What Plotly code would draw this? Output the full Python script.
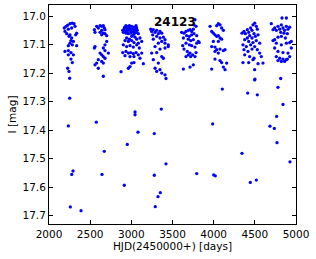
import plotly.graph_objects as go

# Epoch (HJD-2450000) and I magnitude
hjd = [
    # season 1
    2186, 2207, 2227, 2255, 2283, 2304, 2194, 2235, 2275, 2316, 2336, 2324, 2215, 2255, 2243, 2275,
    2267, 2296, 2255, 2283, 2336, 2235, 2194, 2235, 2267, 2296, 2235, 2267, 2283, 2227, 2243,
    # season 2
    2579, 2599, 2620, 2640, 2660, 2672, 2680, 2640, 2620, 2660, 2559, 2551, 2680, 2701, 2640, 2701,
    2680, 2559, 2551, 2660, 2680, 2721, 2620, 2640, 2660, 2680, 2599, 2640, 2579, 2559, 2660, 2599,
    # season 3
    2895, 2911, 2923, 2943, 2951, 2964, 2976, 2984, 2992, 3004, 3016, 3024, 3032, 3045, 3057, 3065,
    3073, 2935, 2964, 2992, 3024, 2903, 3085, 3004, 3045, 2943, 2976, 3065, 3105, 2923, 2964, 3004,
    3032, 3085, 3126, 2903, 2943, 2984, 3024, 3065, 3097, 2895, 2935, 2964, 2992, 3024, 3057, 3085,
    2923, 2984, 3032, 3126, 3004, 3032, 3146, 2984, 2964, 3105, 2919, 2951, 2984, 3008, 3041, 2976,
    3057, 2935,
    # season 4
    3235, 3247, 3267, 3288, 3308, 3328, 3348, 3369, 3259, 3308, 3348, 3389, 3409, 3267, 3369, 3409,
    3449, 3328, 3288, 3247, 3348, 3308, 3409, 3449, 3369, 3389, 3267, 3328, 3288, 3348, 3409, 3308,
    3369,
    # season 5
    3611, 3640, 3664, 3692, 3713, 3733, 3753, 3773, 3761, 3786, 3672, 3705, 3733, 3761, 3794, 3632,
    3692, 3721, 3753, 3814, 3624, 3664, 3705, 3733, 3773, 3794, 3826, 3640, 3680, 3713, 3745, 3786,
    3692, 3664, 3721, 3773, 3753, 3713, 3632,
    # season 6
    3956, 3976, 3996, 4037, 4057, 4077, 4097, 4118, 4016, 4037, 4057, 4077, 4097, 3996, 4057, 3976,
    4016, 4037, 4077, 4118, 4138, 4016, 4057, 4016, 4077, 4097, 4158, 4118, 4138, 3976,
    # season 7
    4344, 4368, 4385, 4409, 4425, 4449, 4466, 4478, 4498, 4518, 4530, 4490, 4437, 4409, 4466, 4506,
    4539, 4377, 4425, 4478, 4518, 4559, 4356, 4397, 4449, 4498, 4368, 4417, 4466, 4530, 4559, 4377,
    4437, 4490, 4579, 4356, 4425, 4478, 4539, 4599, 4498,
    # season 8
    4700, 4721, 4741, 4761, 4781, 4802, 4822, 4830, 4883, 4842, 4862, 4883, 4903, 4923, 4814, 4854,
    4895, 4741, 4721, 4781, 4822, 4871, 4923, 4943, 4761, 4822, 4883, 4741, 4781, 4842, 4903, 4943,
    4761, 4802, 4842, 4883, 4923, 4781, 4822, 4862, 4895,
    # faint outliers
    2251, 2235, 2575, 3045, 3045, 3364, 3081, 3279, 2951, 2672, 2292, 2276, 2644, 3421, 3279, 2915,
    3352, 3324, 2259, 2389, 3291, 4105, 4498, 4781, 4413, 4530, 4842, 4765, 3988, 4684, 4737, 4769,
    4344, 4927, 3794, 4000, 4020, 4445, 4518, 4814, 3421, 4502, 2875, 2660, 2251,
]

imag = [
    # season 1
    17.042, 17.036, 17.032, 17.027, 17.025, 17.027, 17.054, 17.046, 17.042, 17.036, 17.060, 17.066,
    17.062, 17.066, 17.071, 17.077, 17.086, 17.089, 17.095, 17.101, 17.104, 17.104, 17.124, 17.121,
    17.128, 17.136, 17.136, 17.151, 17.163, 17.183, 17.194,
    # season 2
    17.036, 17.042, 17.034, 17.036, 17.034, 17.042, 17.048, 17.050, 17.057, 17.060, 17.057, 17.048,
    17.062, 17.069, 17.066, 17.089, 17.101, 17.107, 17.112, 17.112, 17.121, 17.130, 17.130, 17.136,
    17.142, 17.148, 17.153, 17.159, 17.165, 17.171, 17.165, 17.183,
    # season 3
    17.050, 17.046, 17.054, 17.042, 17.048, 17.036, 17.034, 17.042, 17.050, 17.036, 17.046, 17.054,
    17.039, 17.048, 17.057, 17.042, 17.050, 17.060, 17.062, 17.060, 17.066, 17.057, 17.062, 17.071,
    17.074, 17.077, 17.081, 17.081, 17.077, 17.086, 17.089, 17.086, 17.093, 17.095, 17.089, 17.101,
    17.107, 17.104, 17.109, 17.101, 17.112, 17.128, 17.124, 17.130, 17.128, 17.132, 17.128, 17.136,
    17.139, 17.142, 17.142, 17.130, 17.165, 17.163, 17.167, 17.177, 17.183, 17.148, 17.039, 17.055,
    17.050, 17.055, 17.060, 17.046, 17.034, 17.034,
    # season 4
    17.046, 17.054, 17.048, 17.057, 17.050, 17.062, 17.054, 17.060, 17.066, 17.071, 17.077, 17.074,
    17.083, 17.081, 17.089, 17.095, 17.101, 17.095, 17.107, 17.130, 17.116, 17.128, 17.112, 17.107,
    17.142, 17.148, 17.153, 17.165, 17.183, 17.188, 17.206, 17.194, 17.200,
    # season 5
    17.057, 17.060, 17.054, 17.050, 17.048, 17.054, 17.046, 17.013, 17.031, 17.036, 17.069, 17.071,
    17.066, 17.062, 17.069, 17.077, 17.081, 17.086, 17.083, 17.089, 17.104, 17.095, 17.101, 17.104,
    17.109, 17.095, 17.093, 17.116, 17.124, 17.130, 17.136, 17.128, 17.136, 17.142, 17.142, 17.142,
    17.171, 17.179, 17.186,
    # season 6
    17.036, 17.054, 17.060, 17.034, 17.027, 17.031, 17.042, 17.050, 17.066, 17.071, 17.069, 17.077,
    17.081, 17.089, 17.089, 17.107, 17.109, 17.118, 17.116, 17.121, 17.118, 17.124, 17.130, 17.151,
    17.156, 17.163, 17.165, 17.179, 17.188, 17.186,
    # season 7
    17.060, 17.054, 17.062, 17.048, 17.057, 17.042, 17.050, 17.031, 17.025, 17.036, 17.046, 17.062,
    17.069, 17.077, 17.077, 17.071, 17.066, 17.083, 17.089, 17.093, 17.086, 17.095, 17.101, 17.107,
    17.101, 17.107, 17.118, 17.124, 17.116, 17.118, 17.130, 17.136, 17.142, 17.148, 17.142, 17.163,
    17.163, 17.153, 17.167, 17.165, 17.188,
    # season 8
    17.027, 17.048, 17.042, 17.050, 17.036, 17.046, 17.031, 17.007, 17.007, 17.042, 17.050, 17.036,
    17.046, 17.039, 17.057, 17.060, 17.062, 17.083, 17.086, 17.074, 17.071, 17.077, 17.093, 17.089,
    17.095, 17.101, 17.095, 17.112, 17.124, 17.128, 17.130, 17.112, 17.142, 17.148, 17.151, 17.153,
    17.142, 17.156, 17.159, 17.159, 17.151,
    # faint outliers
    17.288, 17.385, 17.372, 17.336, 17.346, 17.326, 17.407, 17.412, 17.450, 17.474, 17.543, 17.555,
    17.555, 17.518, 17.558, 17.593, 17.619, 17.633, 17.669, 17.682, 17.668, 17.256, 17.224, 17.250,
    17.270, 17.276, 17.310, 17.352, 17.378, 17.386, 17.394, 17.444, 17.481, 17.511, 17.552, 17.557,
    17.560, 17.583, 17.575, 17.219, 17.219, 17.221, 17.195, 17.211, 17.218,
]

x_ticks = [2000, 2500, 3000, 3500, 4000, 4500, 5000]
y_ticks = [17.0, 17.1, 17.2, 17.3, 17.4, 17.5, 17.6, 17.7]
star_id = "24123"

font = "DejaVu Sans"

fig = go.Figure()
fig.add_trace(go.Scatter(
    x=hjd, y=imag, mode="markers",
    marker=dict(color="#0000ff", size=3.3, line=dict(width=0)),
    showlegend=False,
))

axis_common = dict(
    showgrid=False, zeroline=False, showline=True, linecolor="black", linewidth=1,
    mirror="ticks", ticks="inside", ticklen=4, tickwidth=0.8, tickcolor="black",
    tickfont=dict(family=font, size=10.5, color="black"), automargin=False,
)

fig.update_xaxes(range=[2000, 5000], tickvals=x_ticks,
                 ticktext=[str(v) for v in x_ticks],
                 title=dict(text="HJD(2450000+) [days]", font=dict(family=font, size=10.5, color="black"),
                            standoff=3),
                 **axis_common)
fig.update_yaxes(range=[17.7288, 16.9614], tickvals=y_ticks,
                 ticktext=[f"{v:.1f}" for v in y_ticks],
                 title=dict(text="I [mag]", font=dict(family=font, size=10.5, color="black"),
                            standoff=3),
                 **axis_common)

fig.add_annotation(x=3530, y=17.022, text="<b>" + star_id + "</b>", showarrow=False,
                   font=dict(family=font, size=12, color="black"))

fig.update_layout(
    width=316, height=259,
    margin=dict(l=49, r=20, t=5, b=35),
    paper_bgcolor="white", plot_bgcolor="white",
)

fig.write_html("out.html", config={"displayModeBar": False},
               post_script="document.body.style.margin='0';document.body.style.overflow='hidden';")
